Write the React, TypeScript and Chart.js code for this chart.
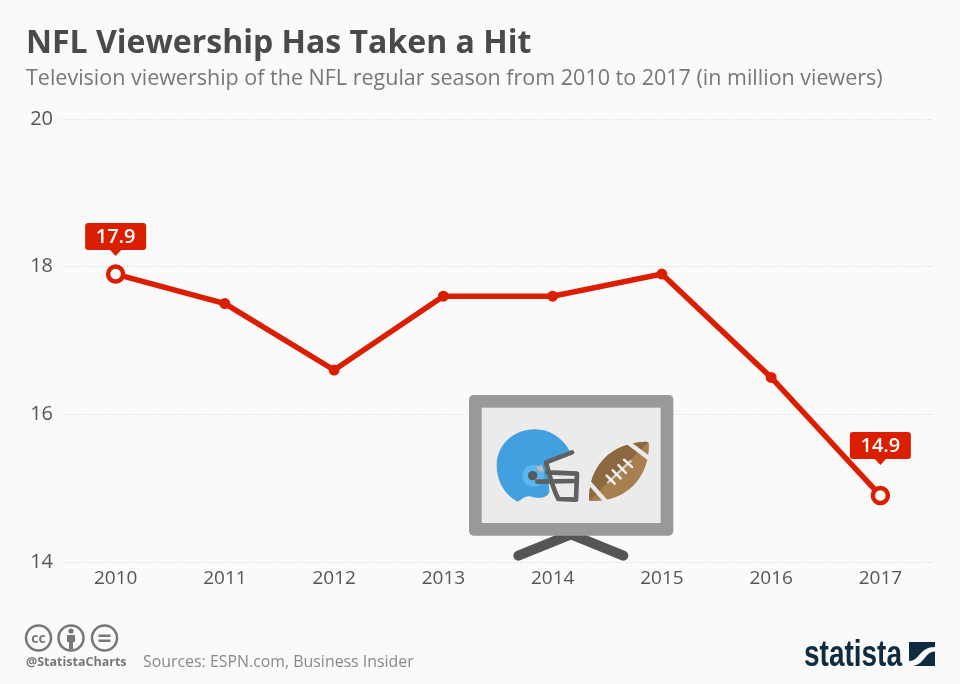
import React, { useEffect, useRef } from "react";
import { Chart, registerables } from "chart.js";

Chart.register(...registerables);

const years = ["2010", "2011", "2012", "2013", "2014", "2015", "2016", "2017"];
const viewers = [17.9, 17.5, 16.6, 17.6, 17.6, 17.9, 16.5, 14.9];
const labelledYears = ["2010", "2017"];
const yTicks = [14, 16, 18, 20];

const RED = "#dc1e00";
const BG = "#fafafa";
const FONT = '"Open Sans", sans-serif';

const isLabelled = (i: number) => labelledYears.includes(years[i]);

const calloutPlugin = {
  id: "callouts",
  beforeDatasetsDraw(chart: any) {
    const { ctx, chartArea } = chart;
    ctx.save();
    ctx.fillStyle = BG;
    ctx.fillRect(932, chartArea.top - 2, chartArea.right - 932 + 2, chartArea.bottom - chartArea.top + 4);
    ctx.restore();
  },
  afterDatasetsDraw(chart: any) {
    const { ctx } = chart;
    const pts = chart.getDatasetMeta(0).data;
    pts.forEach((p: any, i: number) => {
      if (!isLabelled(i)) return;
      const w = 61, h = 27;
      const top = p.y - (i === years.length - 1 ? 63.5 : 51);
      const left = p.x - 30.5;
      ctx.save();
      ctx.fillStyle = RED;
      ctx.beginPath();
      ctx.roundRect(left, top, w, h, 3);
      ctx.fill();
      ctx.beginPath();
      ctx.moveTo(p.x - 6, top + h - 0.5);
      ctx.lineTo(p.x + 6, top + h - 0.5);
      ctx.lineTo(p.x, top + h + 6);
      ctx.closePath();
      ctx.fill();
      ctx.fillStyle = "#ffffff";
      ctx.font = `600 20px ${FONT}`;
      ctx.textAlign = "center";
      ctx.textBaseline = "middle";
      ctx.fillText(viewers[i].toFixed(1), left + w / 2, top + h / 2 + 0.5);
      ctx.restore();
    });
  },
};

function Illustration() {
  return (
    <svg
      width={960}
      height={684}
      style={{ position: "absolute", left: 0, top: 0, pointerEvents: "none" }}
    >
      <g transform="translate(460 385) scale(0.33333)">
        <path d="M175 512 L333 448 L490 512" fill="none" stroke="#555555" strokeWidth={30} strokeLinecap="round" strokeLinejoin="miter" />
        <rect x={27} y={30} width={613} height={422} rx={14} fill="#999999" />
        <rect x={65} y={68} width={537} height={346} fill="#ebebeb" />
        <path d="M172 350 C135 330 110 290 110 240 C110 175 165 133 225 133 C270 133 310 160 330 200 L262 228 L268 320 C262 342 230 340 215 335 C195 330 185 345 172 350Z" fill="#42a0e0" />
        <circle cx={220} cy={272} r={33} fill="#5ab6ee" />
        <circle cx={218} cy={272} r={14} fill="#5a5a5a" />
        <path d="M336 202 L258 232 C268 270 278 310 295 342 L348 344 L351 266 L262 262" fill="none" stroke="#606060" strokeWidth={14} strokeLinejoin="round" strokeLinecap="round" />
        <path d="M232 290 L346 288" fill="none" stroke="#606060" strokeWidth={14} strokeLinecap="round" />
        <path d="M228 245 L246 240 L252 260 L236 258Z" fill="#bdbdbd" />
        <path d="M388 348 C382 250 450 172 558 170 Q567 170 567 180 C567 285 490 352 396 348 Z" fill="#a87f4e" />
        <path d="M388 348 C382 250 450 172 558 170 Q563 170 565 172 Z" fill="#8b6840" />
        <path d="M498 168 L567 220" stroke="#ebebeb" strokeWidth={13} fill="none" />
        <path d="M385 290 L440 352" stroke="#ebebeb" strokeWidth={13} fill="none" />
        <path d="M442 294 L514 226" stroke="#d8d0c4" strokeWidth={7} fill="none" />
        <path d="M440 272 L464 296 M458 256 L482 280 M475 240 L498 264 M492 224 L516 246" stroke="#ffffff" strokeWidth={7} strokeLinecap="round" fill="none" />
      </g>
      <g fill="none" stroke="#777777" strokeWidth={2.5}>
        <circle cx={38.5} cy={638} r={12.5} />
        <circle cx={71} cy={638} r={12.5} />
        <circle cx={104.5} cy={638} r={12.5} />
      </g>
      <text x={38.5} y={642.5} textAnchor="middle" fontFamily={FONT} fontWeight={700} fontSize={14} fill="#777777">cc</text>
      <circle cx={71} cy={631} r={2.6} fill="#777777" />
      <path d="M67 635 H75 V642 H73 V649 H69 V642 H67Z" fill="#777777" />
      <path d="M98.5 634.5 H110.5 V637 H98.5Z M98.5 639.5 H110.5 V642 H98.5Z" fill="#777777" />
      <text x={804} y={666} fontFamily='"Liberation Sans Narrow", "Liberation Sans", sans-serif' fontWeight={700} fontSize={36} fill="#0f2b40" textLength={98} lengthAdjust="spacingAndGlyphs">statista</text>
      <rect x={909} y={642} width={26} height={24} fill="#0f2b40" />
      <path d="M909 661 C920 661 919 647 935 647 V651.5 C925 651.5 925 664 913 666 H909Z" fill={BG} />
    </svg>
  );
}

export default function App() {
  const ref = useRef<HTMLCanvasElement | null>(null);

  useEffect(() => {
    const chart = new Chart(ref.current as HTMLCanvasElement, {
      type: "line",
      data: {
        labels: years,
        datasets: [
          {
            data: viewers,
            borderColor: RED,
            borderWidth: 5.5,
            tension: 0,
            pointRadius: years.map((_, i) => (isLabelled(i) ? 7.5 : 4.5)),
            pointBorderWidth: years.map((_, i) => (isLabelled(i) ? 4.5 : 2)),
            pointBackgroundColor: years.map((_, i) => (isLabelled(i) ? "#ffffff" : RED)),
            pointBorderColor: RED,
          },
        ],
      },
      options: {
        responsive: false,
        animation: false,
        devicePixelRatio: 1,
        layout: { padding: { top: 119, right: 25, left: 0, bottom: 0 } },
        plugins: { legend: { display: false }, tooltip: { enabled: false } },
        scales: {
          x: {
            offset: true,
            grid: { display: false },
            border: { display: false },
            ticks: { color: "#555555", font: { family: FONT, size: 19 }, padding: -3, maxRotation: 0 },
            afterFit: (s: any) => { s.height = 122; },
          },
          y: {
            min: 14,
            max: 20,
            afterBuildTicks: (s: any) => { s.ticks = yTicks.map((value) => ({ value })); },
            grid: { color: "#d4d4d4", drawTicks: false, lineWidth: 1 },
            border: { display: false, dash: [1, 2] },
            ticks: { color: "#555555", font: { family: FONT, size: 20 }, padding: 8 },
            afterFit: (s: any) => { s.width = 61; },
          },
        },
      },
      plugins: [calloutPlugin],
    } as any);
    return () => chart.destroy();
  }, []);

  return (
    <div style={{ position: "fixed", left: 0, top: 0, width: 960, height: 684, background: BG, overflow: "hidden", fontFamily: FONT }}>
      <canvas ref={ref} width={960} height={684} style={{ position: "absolute", left: 0, top: 0, display: "block" }} />
      <Illustration />
      <div style={{ position: "absolute", left: 26, top: 19, fontSize: 32, lineHeight: "44px", fontWeight: 700, color: "#4a4a4a", whiteSpace: "nowrap" }}>
        NFL Viewership Has Taken a Hit
      </div>
      <div style={{ position: "absolute", left: 26, top: 62, fontSize: 21.5, lineHeight: "30px", color: "#777777", whiteSpace: "nowrap" }}>
        Television viewership of the NFL regular season from 2010 to 2017 (in million viewers)
      </div>
      <div style={{ position: "absolute", left: 26, top: 654, fontSize: 12.5, lineHeight: "16px", fontWeight: 700, color: "#777777", whiteSpace: "nowrap" }}>
        @StatistaCharts
      </div>
      <div style={{ position: "absolute", left: 143, top: 650, fontSize: 15.9, lineHeight: "22px", color: "#888888", whiteSpace: "nowrap" }}>
        Sources: ESPN.com, Business Insider
      </div>
    </div>
  );
}
